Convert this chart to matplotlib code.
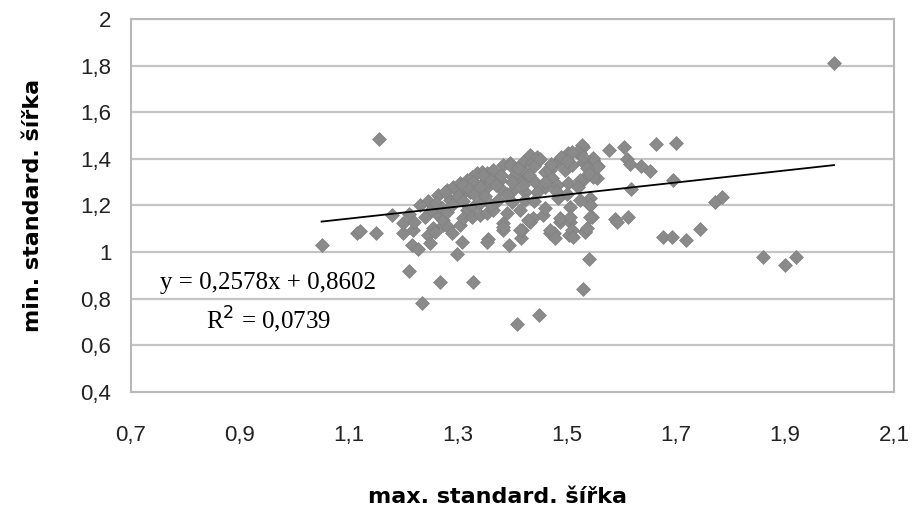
import matplotlib
matplotlib.use("Agg")
import matplotlib.pyplot as plt
import numpy as np

# ---- data ----
x_sparse = [1.99, 1.155, 1.05, 1.115, 1.12, 1.15, 1.21, 1.235, 1.267, 1.327, 1.298, 1.408, 1.449,
            1.529, 1.54, 1.86, 1.90, 1.92, 1.744, 1.718, 1.676, 1.693, 1.772, 1.784, 1.694, 1.617,
            1.588, 1.612, 1.546, 1.533, 1.663, 1.70, 1.605, 1.577, 1.61, 1.616, 1.636, 1.652, 1.529,
            1.548, 1.557, 1.555, 1.529, 1.542, 1.542]
y_sparse = [1.81, 1.485, 1.03, 1.08, 1.09, 1.08, 0.92, 0.78, 0.87, 0.87, 0.99, 0.69, 0.73,
            0.84, 0.97, 0.98, 0.945, 0.98, 1.10, 1.05, 1.065, 1.065, 1.215, 1.235, 1.31, 1.27,
            1.14, 1.15, 1.15, 1.09, 1.465, 1.47, 1.45, 1.44, 1.40, 1.38, 1.37, 1.35, 1.45,
            1.395, 1.37, 1.32, 1.31, 1.23, 1.20]

x_fringe = [1.199, 1.216, 1.227, 1.245, 1.249, 1.307, 1.355, 1.353, 1.394, 1.416, 1.383, 1.383,
            1.417, 1.432, 1.469, 1.476, 1.504, 1.533, 1.487, 1.506, 1.592, 1.218, 1.254, 1.272,
            1.20, 1.18, 1.21, 1.22, 1.245, 1.263]
y_fringe = [1.08, 1.03, 1.015, 1.075, 1.04, 1.045, 1.055, 1.045, 1.03, 1.06, 1.095, 1.125,
            1.095, 1.13, 1.08, 1.08, 1.075, 1.085, 1.13, 1.13, 1.13, 1.095, 1.105, 1.115,
            1.125, 1.16, 1.165, 1.13, 1.22, 1.245]

x_dense = [1.263, 1.272, 1.282, 1.258, 1.289, 1.304, 1.28, 1.291, 1.304, 1.317, 1.326, 1.335, 1.344,
           1.285, 1.298, 1.309, 1.322, 1.335, 1.346, 1.317, 1.328, 1.340, 1.309, 1.326, 1.340, 1.353,
           1.527, 1.524, 1.502, 1.482, 1.432, 1.419, 1.436, 1.395, 1.383, 1.353, 1.364, 1.377, 1.401,
           1.419, 1.441, 1.46, 1.469, 1.472, 1.496, 1.509, 1.529, 1.551, 1.548, 1.524, 1.502, 1.482,
           1.46, 1.445, 1.423, 1.401, 1.377, 1.353, 1.373, 1.399, 1.423, 1.484, 1.506, 1.524, 1.542,
           1.364, 1.39, 1.414, 1.438, 1.428, 1.456, 1.487, 1.506, 1.542, 1.383, 1.414, 1.469, 1.509,
           1.537, 1.478, 1.511, 1.518, 1.502, 1.445, 1.395, 1.484, 1.408, 1.423, 1.364, 1.346, 1.328,
           1.309, 1.276, 1.548, 1.555, 1.537,
           1.23, 1.25, 1.26, 1.27, 1.28, 1.24, 1.29, 1.30, 1.31, 1.32, 1.33, 1.34, 1.36, 1.37, 1.38,
           1.35, 1.36, 1.39, 1.40, 1.41, 1.43, 1.44, 1.45, 1.47, 1.49, 1.51, 1.50, 1.53, 1.46, 1.48,
           1.42, 1.44, 1.46, 1.50, 1.52, 1.54]
y_dense = [1.159, 1.137, 1.107, 1.086, 1.082, 1.116, 1.266, 1.279, 1.296, 1.309, 1.322, 1.339, 1.343,
           1.223, 1.236, 1.253, 1.258, 1.279, 1.296, 1.18, 1.193, 1.21, 1.146, 1.15, 1.159, 1.167,
           1.459, 1.425, 1.416, 1.386, 1.416, 1.386, 1.382, 1.382, 1.373, 1.339, 1.322, 1.309, 1.322,
           1.309, 1.30, 1.343, 1.352, 1.318, 1.352, 1.373, 1.386, 1.365, 1.322, 1.309, 1.296, 1.288,
           1.279, 1.258, 1.258, 1.266, 1.275, 1.279, 1.223, 1.215, 1.223, 1.232, 1.193, 1.223, 1.202,
           1.18, 1.167, 1.18, 1.146, 1.137, 1.159, 1.146, 1.15, 1.15, 1.107, 1.094, 1.094, 1.094,
           1.103, 1.06, 1.064, 1.429, 1.425, 1.408, 1.373, 1.386, 1.339, 1.343, 1.352, 1.33, 1.30,
           1.288, 1.258, 1.403, 1.365, 1.361,
           1.20, 1.18, 1.21, 1.19, 1.17, 1.15, 1.20, 1.24, 1.22, 1.27, 1.25, 1.28, 1.31, 1.29, 1.33,
           1.24, 1.20, 1.25, 1.30, 1.36, 1.33, 1.37, 1.40, 1.38, 1.41, 1.43, 1.39, 1.41, 1.30, 1.26,
           1.29, 1.22, 1.19, 1.25, 1.28, 1.34]

slope = 0.2578
intercept = 0.8602
r2 = 0.0739

x_ticks = [0.7, 0.9, 1.1, 1.3, 1.5, 1.7, 1.9, 2.1]
y_ticks = [0.4, 0.6, 0.8, 1.0, 1.2, 1.4, 1.6, 1.8, 2.0]
x_ticklabels = ["0,7", "0,9", "1,1", "1,3", "1,5", "1,7", "1,9", "2,1"]
y_ticklabels = ["0,4", "0,6", "0,8", "1", "1,2", "1,4", "1,6", "1,8", "2"]

x_all = np.array(x_sparse + x_fringe + x_dense)
y_all = np.array(y_sparse + y_fringe + y_dense)

# ---- figure ----
fig = plt.figure(figsize=(9.15, 5.09), dpi=100)
ax = fig.add_axes([0.143, 0.2299, 0.834, 0.7328])

for yt in y_ticks[1:]:
    ax.axhline(yt, color="#c4c4c4", lw=1.6, zorder=0)

ax.scatter(x_all, y_all, marker="D", s=50, color="#8a8a8a", edgecolors="#808080",
           linewidths=0.5, zorder=2)

xl = np.array([x_all.min(), x_all.max()])
ax.plot(xl, slope * xl + intercept, color="black", lw=1.3, zorder=3)

ax.set_xlim(0.7, 2.1)
ax.set_ylim(0.4, 2.0)
ax.set_xticks(x_ticks)
ax.set_xticklabels(x_ticklabels)
ax.set_yticks(y_ticks)
ax.set_yticklabels(y_ticklabels)
ax.tick_params(length=0, labelsize=16, colors="#222222")
ax.tick_params(axis="y", pad=14)
ax.tick_params(axis="x", pad=24)
for lab in ax.get_xticklabels() + ax.get_yticklabels():
    lab.set_family("Liberation Sans")

for sp in ax.spines.values():
    sp.set_color("#b8b8b8")
    sp.set_linewidth(1.5)

ax.set_xlabel("max. standard. šířka", fontsize=16, fontweight="bold",
              family="DejaVu Sans", labelpad=26)
ax.xaxis.set_label_coords(0.481, -0.255)
ax.set_ylabel("min. standard. šířka", fontsize=16, fontweight="bold",
              family="DejaVu Sans", labelpad=27)

eq = "y = " + f"{slope:.4f}".replace(".", ",") + "x + " + f"{intercept:.4f}".replace(".", ",")
ax.text(0.18, 0.292, eq, transform=ax.transAxes, ha="center", va="center",
        fontsize=18, family="Liberation Serif")
ax.text(0.18, 0.193, "R$^2$ = " + f"{r2:.4f}".replace(".", ","), transform=ax.transAxes,
        ha="center", va="center", fontsize=18, family="Liberation Serif")

fig.savefig("out.png", dpi=100)
